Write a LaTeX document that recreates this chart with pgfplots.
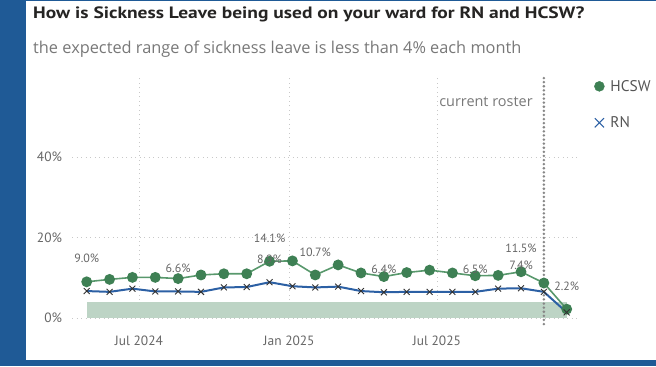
\documentclass[border=0pt]{standalone}
\usepackage{fontspec}
\usepackage{pgfplots}
\pgfplotsset{compat=1.18}
\setmainfont{PT Sans}
\newfontfamily\segoe{Open Sans}
\definecolor{frameblue}{RGB}{31,90,150}
\definecolor{hcswmark}{RGB}{62,128,84}
\definecolor{hcswline}{RGB}{88,152,108}
\definecolor{rnline}{RGB}{44,96,164}
\definecolor{rnmark}{RGB}{50,50,50}
\definecolor{bandc}{RGB}{189,212,197}
\definecolor{gridc}{RGB}{200,200,200}
\definecolor{ticktext}{RGB}{102,102,102}
\definecolor{legtext}{RGB}{85,85,85}
\definecolor{titletext}{RGB}{37,36,35}
\definecolor{subtext}{RGB}{120,120,120}
\definecolor{rostc}{RGB}{135,135,135}
\begin{document}
\begin{tikzpicture}[x=1bp,y=1bp]
\path[use as bounding box] (0,0) rectangle (656,366);
\fill[frameblue] (0,0) rectangle (26,366);
\fill[frameblue] (0,0) rectangle (656,6);
\fill[frameblue] (0,364.5) rectangle (656,366);
\node[anchor=base west, inner sep=0pt, text=titletext, font=\bfseries\fontsize{16.5}{18}\selectfont] at (33,347.7) {\scalebox{1.185}[1]{How is Sickness Leave being used on your ward for RN and HCSW?}};
\node[anchor=base west, inner sep=0pt, text=subtext, font=\segoe\fontsize{16.4}{19}\selectfont] at (33,313) {the expected range of sickness leave is less than 4\% each month};
\begin{axis}[
  at={(72bp,48bp)}, anchor=south west, scale only axis,
  width=505bp, height=241.3bp,
  xmin=100, xmax=718.6, ymin=0, ymax=60,
  axis line style={draw=none},
  major tick length=0pt,
  xtick={182,366,547}, xticklabels={Jul 2024,Jan 2025,Jul 2025},
  ytick={0,20,40},
  yticklabel={\pgfmathprintnumber{\tick}\%},
  /pgf/number format/assume math mode=true,
  ticklabel style={font=\fontsize{13.5}{15}\selectfont, text=ticktext},
  xticklabel style={anchor=base, yshift=-27bp},
  yticklabel style={anchor=east, xshift=-6.5bp},
  grid=major,
  grid style={gridc, line width=0.8bp, dash pattern=on 1bp off 3.5bp},
  clip=false,
  legend style={at={(axis description cs:1.034,0.995)}, anchor=north west, draw=none, fill=none, inner sep=0pt, row sep=20bp, font=\fontsize{15.5}{17}\selectfont, text=legtext, /tikz/every odd column/.append style={column sep=4bp}},
  legend cell align=left,
  legend image code/.code={\draw[#1] plot coordinates {(0bp,0bp)};},
]
% expected range band 0-4%
\addplot[forget plot, fill=bandc, draw=none] coordinates {(118,4) (706,4)} \closedcycle;
% current roster marker line
\addplot[forget plot, rostc, line width=2.8bp, line cap=round, dash pattern=on 0bp off 4.1bp] coordinates {(678,-1.5) (678,60)};
% HCSW
\addplot[forget plot, hcswline, line width=1.6bp, mark=*, mark size=4.6bp, mark options={fill=hcswmark, draw=hcswmark, solid}] coordinates {
(118,9.0) (146,9.6) (174,10.1) (202,10.1) (230,9.8) (258,10.7) (286,11.0) (314,11.0)
(342,14.1) (370,14.2) (398,10.7) (426,13.2) (454,11.2) (482,10.3) (510,11.3) (538,11.9)
(566,11.2) (594,10.5) (622,10.6) (650,11.5) (678,8.7) (706,2.2)};
% RN
\addplot[forget plot, rnline, line width=2bp, mark=x, mark size=4.2bp, mark options={draw=rnmark, line width=0.9bp, solid}] coordinates {
(118,6.7) (146,6.5) (174,7.3) (202,6.6) (230,6.6) (258,6.5) (286,7.6) (314,7.7)
(342,8.9) (370,7.9) (398,7.6) (426,7.8) (454,6.7) (482,6.4) (510,6.5) (538,6.5)
(566,6.5) (594,6.5) (622,7.3) (650,7.4) (678,6.5) (706,1.4)};
% data labels HCSW
\addplot[forget plot, draw=none, mark=none, point meta=y,
  nodes near coords={\pgfmathprintnumber[fixed,fixed zerofill,precision=1]{\pgfplotspointmeta}\%},
  nodes near coords style={anchor=center, yshift=23bp, inner sep=0pt, font=\fontsize{12}{13}\selectfont, text=ticktext}]
  coordinates {(118,9.0) (342,14.1) (398,10.7) (650,11.5) (706,2.2)};
% data labels RN
\addplot[forget plot, draw=none, mark=none, point meta=y,
  nodes near coords={\pgfmathprintnumber[fixed,fixed zerofill,precision=1]{\pgfplotspointmeta}\%},
  nodes near coords style={anchor=center, yshift=23bp, inner sep=0pt, font=\fontsize{12}{13}\selectfont, text=ticktext}]
  coordinates {(230,6.6) (342,8.9) (482,6.4) (594,6.5) (650,7.4)};
\node[anchor=east, xshift=-11bp, inner sep=0pt, font=\segoe\fontsize{14.5}{16}\selectfont, text=subtext] at (axis cs:678,53.8) {current roster};
\addlegendimage{only marks, mark=*, mark size=5bp, hcswmark}
\addlegendentry{HCSW}
\addlegendimage{only marks, mark=x, mark size=6.5bp, rnline, mark options={line width=1.1bp}}
\addlegendentry{RN}
\end{axis}
\end{tikzpicture}
\end{document}
